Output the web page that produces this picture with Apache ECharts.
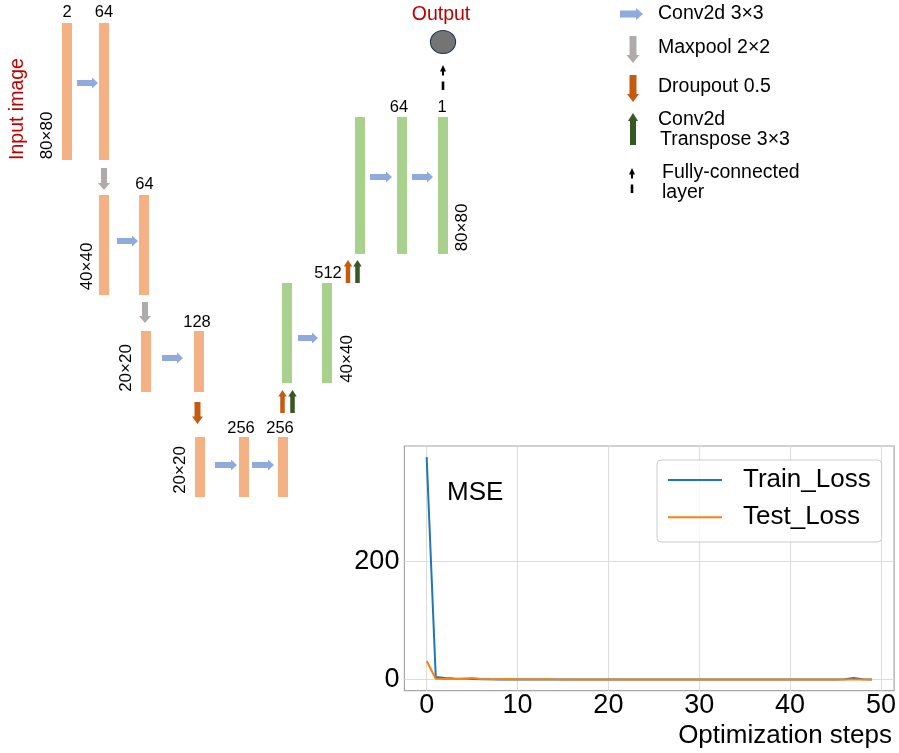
<!DOCTYPE html>
<html>
<head>
<meta charset="utf-8">
<script src="https://cdn.jsdelivr.net/npm/echarts@6/dist/echarts.min.js"></script>
<style>html,body{margin:0;padding:0;background:#fff}#c{width:899px;height:753px}</style>
</head>
<body>
<div id="c"></div>
<script>
// ---------------- Loss curve data ----------------
const steps = [0,1,2,3,4,5,6,7,8,9,10,11,12,13,14,15,16,17,18,19,20,21,22,23,24,25,26,27,28,29,30,31,32,33,34,35,36,37,38,39,40,41,42,43,44,45,46,47,48,49];
const trainLoss = [376,4.5,3.0,2.2,1.8,1.2,0.8,0.6,0.5,0.5,0.4,0.4,0.4,0.3,0.3,0.3,0.3,0.3,0.3,0.3,0.3,0.3,0.3,0.3,0.3,0.3,0.3,0.3,0.3,0.3,0.3,0.3,0.3,0.3,0.3,0.3,0.3,0.3,0.3,0.3,0.3,0.3,0.3,0.3,0.3,0.3,0.6,3.0,0.8,0.4];
const testLoss  = [31.5,1.5,1.2,1.2,1.5,3.0,1.0,0.8,0.8,1.2,0.8,0.6,0.6,0.8,0.6,0.5,0.5,0.4,0.4,0.4,0.4,0.4,0.4,0.4,0.4,0.4,0.4,0.4,0.4,0.4,0.4,0.4,0.4,0.4,0.4,0.4,0.4,0.4,0.4,0.4,0.4,0.4,0.4,0.4,0.4,0.4,0.4,0.4,0.4,0.4];
const xTicks = [0,10,20,30,40,50];
const yTicks = [0,200];

// ---------------- U-Net diagram data (diagram units) ----------------
// [centerX, top, bottom]
const encoderBlocks = [[67,23,160],[104,23,160],[104,195,295],[144,195,295],[146,331,392],[199,331,392],[200,437,497],[244,437,497],[283,437,497]];
const decoderBlocks = [[287,283,383],[327,283,383],[360,117,254],[402,117,254],[443,117,254]];
// arrows [tailX, tailY, tipX, tipY]
const convArrows = [[77,83,98,83],[117,241,138,241],[162,358,183,358],[215,465,237,465],[252,465,274,465],[298,338,318,338],[370,177,392,177],[412,177,433,177]];
const poolArrows = [[104,168,104,190],[145,302,145,323]];
const dropDownArrows = [[197.5,402,197.5,424]];
const dropUpArrows = [[282.5,413,282.5,390],[348,283,348,260]];
const transposeArrows = [[292.5,413,292.5,390],[357.5,283,357.5,260]];
const fcArrows = [[443,90,443,65]];
const outputNode = [[443,42]];
// labels
const channelLabels = ['2','64','64','128','256','256','512','64','1'];
const channelLabelPos = [[67,12.5],[104,12.5],[144.5,184],[197,322],[241,428],[280,428],[328,273],[399,107],[442,107]];
const sizeLabels = ['80×80','40×40','20×20','20×20','40×40','80×80'];
const sizeLabelPos = [[47,135.5],[87,266.5],[126,368],[180,470],[347,359],[462,227.5]];
const ioLabels = ['Output'];
const ioLabelPos = [[441,15]];
const inputLabels = ['Input image'];
const inputLabelPos = [[18,109]];
// key (legend of diagram)
const keyArrows = {keyConv:[[620,14,643,14]], keyPool:[[633,36,633,63]], keyDrop:[[633,75,633,102]], keyTrans:[[633,145,633,113]], fc:[[632,193,632,168]]};
const keyLabels = ['Conv2d 3×3','Maxpool 2×2','Droupout 0.5','Conv2d','Transpose 3×3','Fully-connected','layer'];
const keyLabelPos = [[658,13.5],[658,47.5],[658,86.5],[658,120],[660,140],[662,173],[662,193]];

// ---------------- styles ----------------
const FONT = '"Liberation Sans", Arial, Helvetica, sans-serif';
const BLOCK_W = 10;
const arrowKinds = {
  conv:    {color:'#8FAADC', body:6, head:11, headLen:6},
  pool:    {color:'#AFABAB', body:6, head:12, headLen:7},
  drop:    {color:'#C55A11', body:6, head:11, headLen:7.5},
  dropUp:  {color:'#C55A11', body:4.5, head:8.5, headLen:6.5},
  transUp: {color:'#385723', body:4.5, head:8.5, headLen:6.5},
  keyConv: {color:'#8FAADC', body:7, head:12, headLen:7},
  keyPool: {color:'#AFABAB', body:7, head:13, headLen:8},
  keyDrop: {color:'#C55A11', body:7, head:12, headLen:8},
  keyTrans:{color:'#385723', body:6, head:10, headLen:8},
  fc:      {color:'#000000', fc:true}
};
const labelStyles = {
  channel: {fontSize:16.5, fill:'#000', align:'center', rotation:0},
  size:    {fontSize:17, fill:'#000', align:'center', rotation:Math.PI/2},
  io:      {fontSize:19.5, fill:'#C00000', align:'center', rotation:0},
  ioV:     {fontSize:19.5, fill:'#C00000', align:'center', rotation:Math.PI/2},
  key:     {fontSize:19.5, fill:'#000', align:'left', rotation:0}
};

// ---------------- build items ----------------
const arrowItems = [];
function addArrows(list, kind){ list.forEach(a => arrowItems.push({value:a, kind})); }
addArrows(convArrows,'conv'); addArrows(poolArrows,'pool'); addArrows(dropDownArrows,'drop');
addArrows(dropUpArrows,'dropUp'); addArrows(transposeArrows,'transUp'); addArrows(fcArrows,'fc');
Object.keys(keyArrows).forEach(k => addArrows(keyArrows[k], k));

const labelItems = [];
function addLabels(texts, pos, styleKey){ texts.forEach((t,i) => labelItems.push({value:pos[i], text:t, styleKey})); }
addLabels(channelLabels, channelLabelPos, 'channel');
addLabels(sizeLabels, sizeLabelPos, 'size');
addLabels(ioLabels, ioLabelPos, 'io');
addLabels(inputLabels, inputLabelPos, 'ioV');
addLabels(keyLabels, keyLabelPos, 'key');

function blockRenderer(color){
  return function(params, api){
    const x = api.value(0);
    const p0 = api.coord([x, api.value(1)]);
    const p1 = api.coord([x, api.value(2)]);
    const w = api.size([BLOCK_W, 0])[0];
    return {type:'rect', shape:{x:p0[0]-w/2, y:Math.min(p0[1],p1[1]), width:w, height:Math.abs(p1[1]-p0[1])}, style:{fill:color}};
  };
}

function arrowPolys(p1, p2, k){
  const dx = p2[0]-p1[0], dy = p2[1]-p1[1];
  const L = Math.hypot(dx, dy);
  const ux = dx/L, uy = dy/L, nx = -uy, ny = ux;
  const pt = (s,t) => [p1[0]+ux*s+nx*t, p1[1]+uy*s+ny*t];
  if (k.fc) {
    return [
      [pt(L,0), pt(L-6.5,3), pt(L-6.5,-3)],
      [pt(L-6,1), pt(L-10.5,1), pt(L-10.5,-1), pt(L-6,-1)],
      [pt(0,1.3), pt(8.5,1.3), pt(8.5,-1.3), pt(0,-1.3)]
    ];
  }
  const nb = L - k.headLen;
  return [[pt(0,k.body/2), pt(nb,k.body/2), pt(nb,k.head/2), pt(L,0), pt(nb,-k.head/2), pt(nb,-k.body/2), pt(0,-k.body/2)]];
}

function arrowRenderer(params, api){
  const item = arrowItems[params.dataIndex];
  const k = arrowKinds[item.kind];
  const p1 = api.coord([api.value(0), api.value(1)]);
  const p2 = api.coord([api.value(2), api.value(3)]);
  return {type:'group', children: arrowPolys(p1,p2,k).map(pts => ({type:'polygon', shape:{points:pts}, style:{fill:k.color}}))};
}

function labelRenderer(params, api){
  const item = labelItems[params.dataIndex];
  const s = labelStyles[item.styleKey];
  const p = api.coord([api.value(0), api.value(1)]);
  return {type:'text', x:p[0], y:p[1], rotation:s.rotation,
    style:{text:item.text, x:0, y:0, align:s.align, verticalAlign:'middle', fontSize:s.fontSize, fontFamily:FONT, fill:s.fill}};
}

function nodeRenderer(params, api){
  const p = api.coord([api.value(0), api.value(1)]);
  return {type:'circle', x:p[0], y:p[1], scaleX:12.6/11.5, scaleY:1, shape:{cx:0, cy:0, r:11.5},
    style:{fill:'#747474', stroke:'#25355a', lineWidth:1}};
}

const chart = echarts.init(document.getElementById('c'), null, {renderer:'canvas'});
chart.setOption({
  animation:false,
  backgroundColor:'#ffffff',
  textStyle:{fontFamily:FONT},
  title:[
    {text:'MSE', left:447, top:480, padding:0, textStyle:{fontSize:26, fontWeight:'normal', color:'#000', fontFamily:FONT}},
    {text:'Optimization steps', right:7, top:723, padding:0, textStyle:{fontSize:26, fontWeight:'normal', color:'#000', fontFamily:FONT}}
  ],
  legend:{
    data:['Train_Loss','Test_Loss'], orient:'vertical', left:657, top:460,
    padding:[7,11,11.7,11], itemGap:11.3, itemWidth:54, itemHeight:2, icon:'rect',
    borderColor:'#cccccc', borderWidth:1, borderRadius:4, backgroundColor:'rgba(255,255,255,0.8)',
    textStyle:{fontSize:26, color:'#000', padding:[0,0,0,16], fontFamily:FONT}
  },
  grid:[
    {left:0, top:0, width:899, height:753, show:false},
    {left:404.4, top:446, width:490.5, height:244.7, show:true, borderColor:'#a6a6a6', borderWidth:1.2, backgroundColor:'rgba(0,0,0,0)'}
  ],
  xAxis:[
    {gridIndex:0, type:'value', min:0, max:899, show:false},
    {gridIndex:1, type:'value', min:-2.45, max:51.45,
      axisLine:{show:false},
      axisTick:{show:false, customValues:xTicks},
      axisLabel:{customValues:xTicks, fontSize:27, color:'#000', margin:1, fontFamily:FONT},
      splitLine:{show:true, lineStyle:{color:'#dcdcdc', width:1}}}
  ],
  yAxis:[
    {gridIndex:0, type:'value', min:0, max:753, inverse:true, show:false},
    {gridIndex:1, type:'value', min:-18.6, max:394.8,
      axisLine:{show:false},
      axisTick:{show:false, customValues:yTicks},
      axisLabel:{customValues:yTicks, fontSize:27, color:'#000', margin:5, fontFamily:FONT},
      splitLine:{show:true, lineStyle:{color:'#dcdcdc', width:1}}}
  ],
  series:[
    {type:'custom', name:'encoder', xAxisIndex:0, yAxisIndex:0, clip:false, silent:true, renderItem:blockRenderer('#F4B183'), data:encoderBlocks},
    {type:'custom', name:'decoder', xAxisIndex:0, yAxisIndex:0, clip:false, silent:true, renderItem:blockRenderer('#A9D18E'), data:decoderBlocks},
    {type:'custom', name:'arrows', xAxisIndex:0, yAxisIndex:0, clip:false, silent:true, renderItem:arrowRenderer, data:arrowItems},
    {type:'custom', name:'node', xAxisIndex:0, yAxisIndex:0, clip:false, silent:true, renderItem:nodeRenderer, data:outputNode},
    {type:'custom', name:'labels', xAxisIndex:0, yAxisIndex:0, clip:false, silent:true, renderItem:labelRenderer, data:labelItems},
    {type:'line', name:'Train_Loss', xAxisIndex:1, yAxisIndex:1, showSymbol:false, symbol:'none',
      data:steps.map((s,i)=>[s, trainLoss[i]]), lineStyle:{width:2, color:'#1f77b4'}, itemStyle:{color:'#1f77b4'}},
    {type:'line', name:'Test_Loss', xAxisIndex:1, yAxisIndex:1, showSymbol:false, symbol:'none',
      data:steps.map((s,i)=>[s, testLoss[i]]), lineStyle:{width:2, color:'#ff7f0e'}, itemStyle:{color:'#ff7f0e'}}
  ]
});
</script>
</body>
</html>
